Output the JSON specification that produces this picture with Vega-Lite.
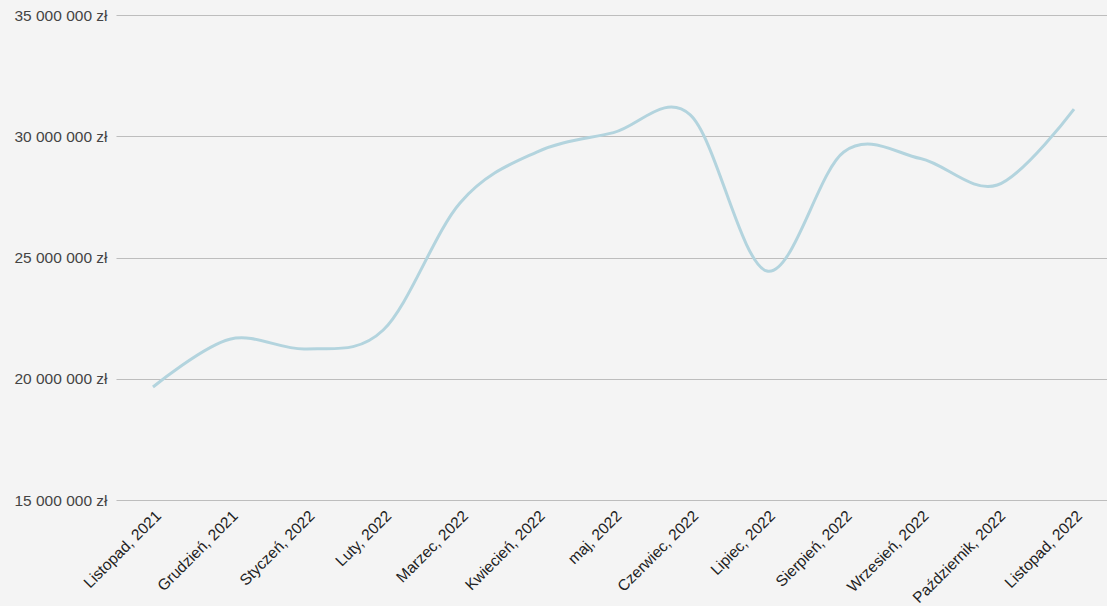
{
  "$schema": "https://vega.github.io/schema/vega-lite/v6.json",
  "autosize": {"type": "none"},
  "padding": {"left": 116, "top": 15, "right": 0, "bottom": 106},
  "width": 995,
  "height": 485,
  "background": "#f4f4f4",
  "config": {"view": {"stroke": null}, "font": "Liberation Sans"},
  "data": {
    "values": [
      {"miesiac": "Listopad, 2021", "wartosc": 19660000},
      {"miesiac": "Grudzień, 2021", "wartosc": 21630000},
      {"miesiac": "Styczeń, 2022", "wartosc": 21230000},
      {"miesiac": "Luty, 2022", "wartosc": 22010000},
      {"miesiac": "Marzec, 2022", "wartosc": 27250000},
      {"miesiac": "Kwiecień, 2022", "wartosc": 29350000},
      {"miesiac": "maj, 2022", "wartosc": 30150000},
      {"miesiac": "Czerwiec, 2022", "wartosc": 30880000},
      {"miesiac": "Lipiec, 2022", "wartosc": 24440000},
      {"miesiac": "Sierpień, 2022", "wartosc": 29350000},
      {"miesiac": "Wrzesień, 2022", "wartosc": 29080000},
      {"miesiac": "Październik, 2022", "wartosc": 27990000},
      {"miesiac": "Listopad, 2022", "wartosc": 31120000}
    ]
  },
  "mark": {"type": "line", "interpolate": "cardinal", "color": "#b3d4de", "strokeWidth": 3, "clip": false},
  "encoding": {
    "x": {
      "field": "miesiac",
      "type": "ordinal",
      "sort": null,
      "scale": {"type": "point", "padding": 0.482},
      "axis": {
        "title": null,
        "labelAngle": -45,
        "labelFontSize": 15.5,
        "labelColor": "#222222",
        "domain": false,
        "ticks": false,
        "grid": false,
        "labelPadding": 8
      }
    },
    "y": {
      "field": "wartosc",
      "type": "quantitative",
      "scale": {"domain": [15000000, 35000000], "nice": false, "zero": false},
      "axis": {
        "title": null,
        "values": [15000000, 20000000, 25000000, 30000000, 35000000],
        "labelExpr": "replace(replace(format(datum.value, ','), ',', ' '), ',', ' ') + ' zł'",
        "labelFontSize": 15.5,
        "labelColor": "#444444",
        "domain": false,
        "ticks": false,
        "labelPadding": 9,
        "gridColor": "#bdbdbd",
        "gridOpacity": 1,
        "gridWidth": 1
      }
    }
  }
}
